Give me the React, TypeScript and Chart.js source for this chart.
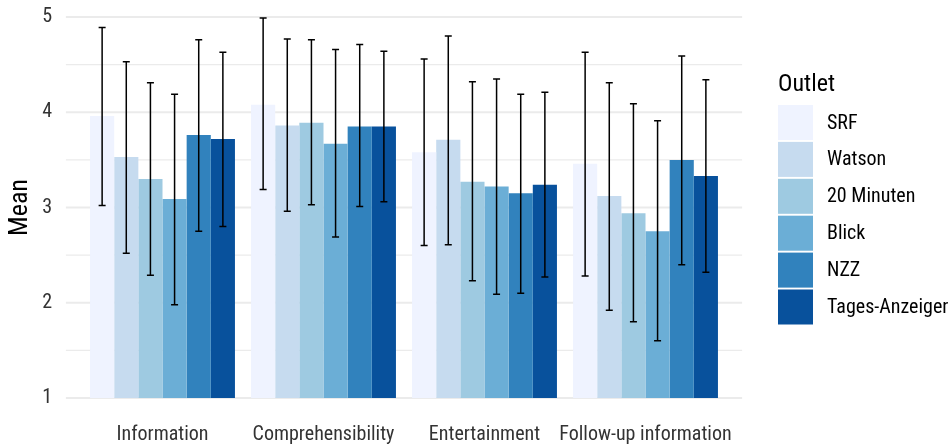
import React, { useEffect, useRef } from "react";
import { Chart, registerables } from "chart.js";

Chart.register(...registerables);

const categories = ["Information", "Comprehensibility", "Entertainment", "Follow-up information"];
const outlets = ["SRF", "Watson", "20 Minuten", "Blick", "NZZ", "Tages-Anzeiger"];
const outletColors = ["#EFF3FF", "#C6DBEF", "#9ECAE1", "#6BAED6", "#3182BD", "#08519C"];

// Mean per outlet, one value per category
const srfMean = [3.96, 4.08, 3.58, 3.46];
const watsonMean = [3.53, 3.86, 3.71, 3.12];
const minutenMean = [3.30, 3.89, 3.27, 2.94];
const blickMean = [3.09, 3.67, 3.22, 2.75];
const nzzMean = [3.76, 3.85, 3.15, 3.50];
const tagesMean = [3.72, 3.85, 3.24, 3.33];

// Error bar lower / upper ends
const srfLow = [3.02, 3.19, 2.60, 2.28];
const srfHigh = [4.89, 4.99, 4.56, 4.63];
const watsonLow = [2.52, 2.96, 2.61, 1.92];
const watsonHigh = [4.53, 4.77, 4.80, 4.31];
const minutenLow = [2.29, 3.03, 2.23, 1.80];
const minutenHigh = [4.31, 4.76, 4.32, 4.09];
const blickLow = [1.98, 2.69, 2.09, 1.60];
const blickHigh = [4.19, 4.66, 4.35, 3.91];
const nzzLow = [2.75, 3.01, 2.10, 2.40];
const nzzHigh = [4.76, 4.71, 4.19, 4.59];
const tagesLow = [2.80, 3.06, 2.27, 2.32];
const tagesHigh = [4.63, 4.64, 4.21, 4.34];

const yTicks = [1, 2, 3, 4, 5];
const yMin = 1;
const yMax = 5;

const means = [srfMean, watsonMean, minutenMean, blickMean, nzzMean, tagesMean];
const lows = [srfLow, watsonLow, minutenLow, blickLow, nzzLow, tagesLow];
const highs = [srfHigh, watsonHigh, minutenHigh, blickHigh, nzzHigh, tagesHigh];

const FONT = "'Roboto Condensed', 'Liberation Sans Narrow', 'Arial Narrow', Roboto, sans-serif";

// panel extends beyond category area like ggplot's 0.6 expansion
const PANEL_EXPAND = 0.1; // in category widths beyond the chart area

const gridPlugin = {
  id: "ggGrid",
  beforeDatasetsDraw(chart: any) {
    const { ctx, chartArea, scales } = chart;
    const y = scales.y;
    const catW = (chartArea.right - chartArea.left) / categories.length;
    const left = chartArea.left - catW * PANEL_EXPAND;
    const right = chartArea.right + catW * PANEL_EXPAND;
    ctx.save();
    for (let v = yMin; v <= yMax + 1e-9; v += 0.5) {
      const major = Math.abs(v - Math.round(v)) < 1e-9;
      const py = y.getPixelForValue(v);
      ctx.strokeStyle = "#EBEBEB";
      ctx.lineWidth = major ? 2.2 : 1.1;
      ctx.beginPath();
      ctx.moveTo(left, py);
      ctx.lineTo(right, py);
      ctx.stroke();
    }
    ctx.restore();
  },
};

const errorBarPlugin = {
  id: "errorBars",
  afterDatasetsDraw(chart: any) {
    const { ctx, scales } = chart;
    const y = scales.y;
    ctx.save();
    ctx.strokeStyle = "#000000";
    ctx.lineWidth = 1.5;
    chart.data.datasets.forEach((ds: any, di: number) => {
      const meta = chart.getDatasetMeta(di);
      meta.data.forEach((bar: any, i: number) => {
        const x = bar.x;
        const yl = y.getPixelForValue(lows[di][i]);
        const yh = y.getPixelForValue(highs[di][i]);
        const cap = 3.5;
        ctx.beginPath();
        ctx.moveTo(x, yl);
        ctx.lineTo(x, yh);
        ctx.moveTo(x - cap, yl);
        ctx.lineTo(x + cap, yl);
        ctx.moveTo(x - cap, yh);
        ctx.lineTo(x + cap, yh);
        ctx.stroke();
      });
    });
    ctx.restore();
  },
};

const legendPlugin = {
  id: "ggLegend",
  afterDraw(chart: any) {
    const { ctx } = chart;
    const x0 = 778;
    ctx.save();
    ctx.fillStyle = "#000000";
    ctx.textBaseline = "alphabetic";
    ctx.textAlign = "left";
    ctx.font = `24px ${FONT}`;
    ctx.fillText("Outlet", x0, 91);
    const top = 105;
    const step = 36.9;
    const key = 35;
    outlets.forEach((name, i) => {
      const ry = top + i * step;
      ctx.fillStyle = outletColors[i];
      ctx.fillRect(x0, ry, key, key);
      ctx.fillStyle = "#000000";
      ctx.font = `20px ${FONT}`;
      ctx.textBaseline = "middle";
      ctx.fillText(name, x0 + 49, ry + key / 2 + 1);
    });
    ctx.restore();
  },
};

export default function App() {
  const ref = useRef<HTMLCanvasElement | null>(null);

  useEffect(() => {
    document.body.style.margin = "0";
    const canvas = ref.current;
    if (!canvas) return;
    const chart = new Chart(canvas, {
      type: "bar",
      data: {
        labels: categories,
        datasets: outlets.map((name, di) => ({
          label: name,
          data: means[di].map((m) => [yMin, m]),
          backgroundColor: outletColors[di],
          borderWidth: 0,
          categoryPercentage: 0.9,
          barPercentage: 1.0,
        })),
      },
      options: {
        responsive: false,
        animation: false,
        devicePixelRatio: 1,
        layout: { padding: { top: 17, right: 224, left: 0, bottom: 0 } },
        plugins: {
          legend: { display: false },
          tooltip: { enabled: false },
        },
        scales: {
          x: {
            type: "category",
            offset: true,
            grid: { display: false, drawTicks: false },
            border: { display: false },
            ticks: {
              color: "#333333",
              font: { family: FONT, size: 20 },
              padding: 25,
              maxRotation: 0,
              autoSkip: false,
            },
            afterFit(scale: any) {
              scale.height = 47;
              scale.paddingLeft = 0;
              scale.paddingRight = 0;
            },
          },
          y: {
            type: "linear",
            min: yMin,
            max: yMax,
            afterBuildTicks(scale: any) {
              scale.ticks = yTicks.map((v) => ({ value: v }));
            },
            grid: { display: false, drawTicks: false },
            border: { display: false },
            ticks: {
              color: "#333333",
              font: { family: FONT, size: 20 },
              padding: 30,
            },
            title: {
              display: true,
              text: "Mean",
              color: "#000000",
              font: { family: FONT, size: 26 },
              padding: { top: 5, bottom: 0 },
            },
            afterFit(scale: any) {
              scale.width = 82;
              scale.paddingTop = 0;
              scale.paddingBottom = 0;
            },
          },
        },
      },
      plugins: [gridPlugin, errorBarPlugin, legendPlugin],
    });
    return () => chart.destroy();
  }, []);

  return (
    <div style={{ width: 950, height: 445 }}>
      <canvas ref={ref} width={950} height={445} style={{ display: "block" }} />
    </div>
  );
}
